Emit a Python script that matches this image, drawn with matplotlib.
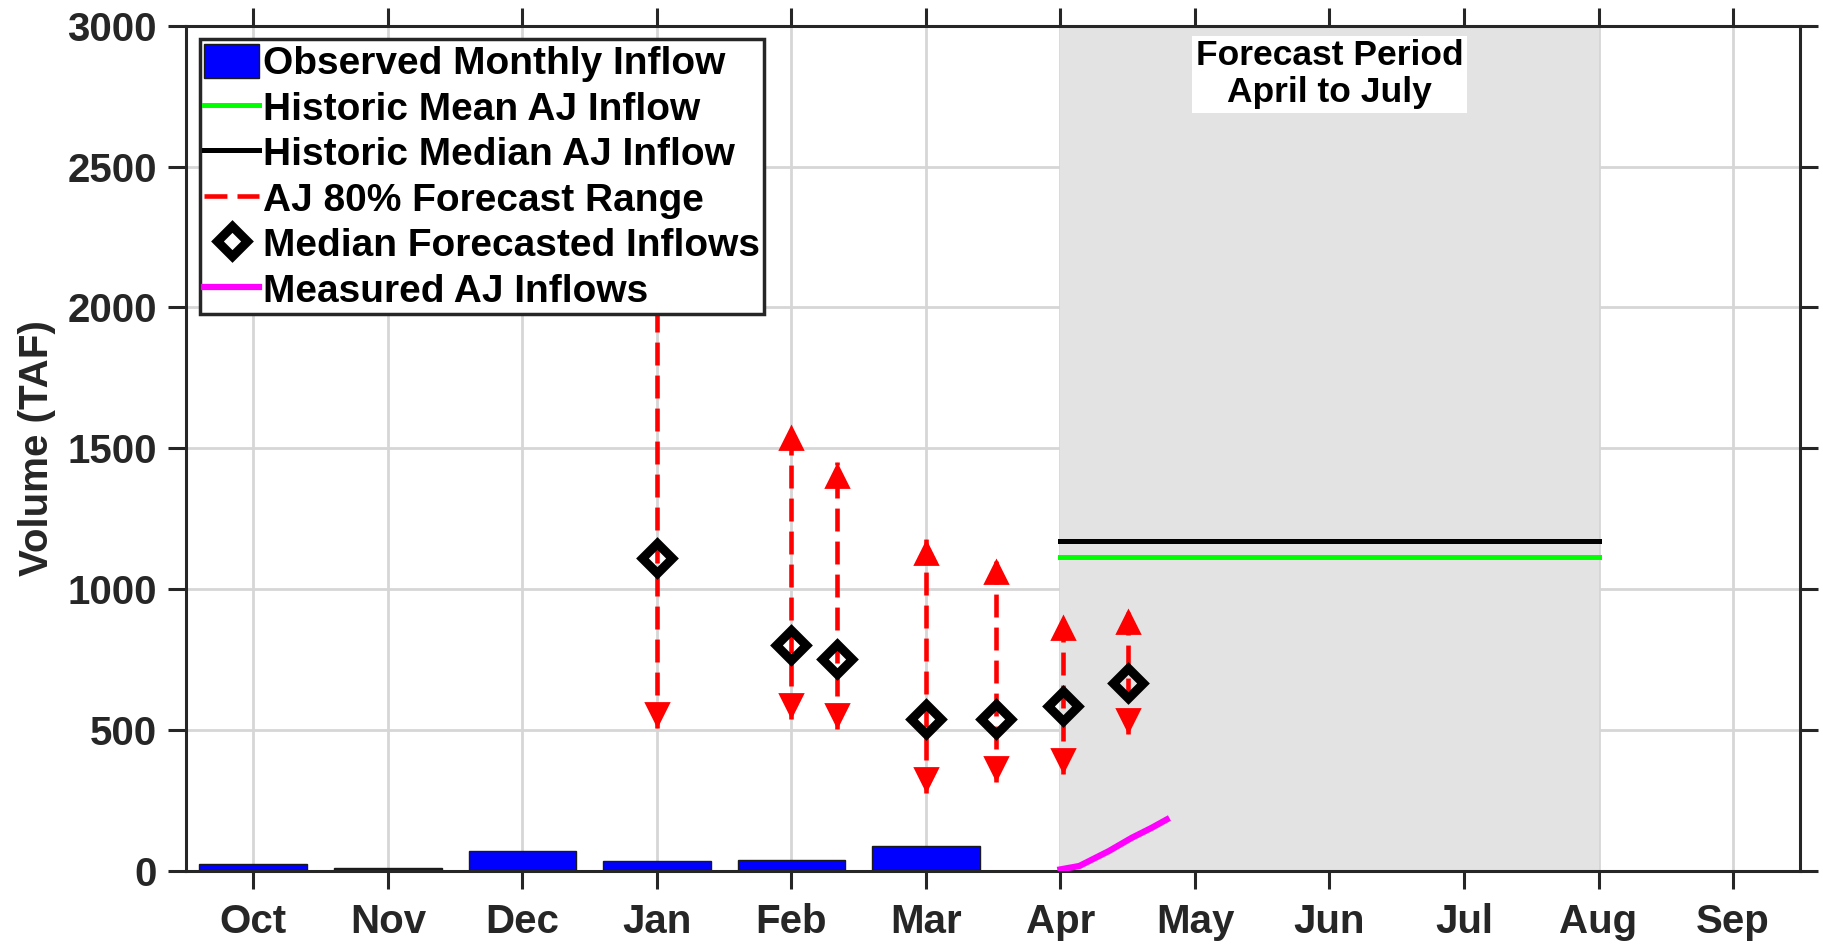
import numpy as np
import matplotlib
matplotlib.use('Agg')
from matplotlib import pyplot as plt
from matplotlib import rcParams

rcParams['font.family'] = ['Liberation Sans', 'DejaVu Sans']
rcParams['font.weight'] = 'bold'

# water year months, Oct = 1
months = ['Oct', 'Nov', 'Dec', 'Jan', 'Feb', 'Mar', 'Apr', 'May', 'Jun', 'Jul', 'Aug', 'Sep']
observed_inflow = [25, 12, 71, 34, 38, 90]  # Oct..Mar, TAF

# forecast issue dates (month position) and 80% range
fc_pos = [4.0, 5.0, 5.34, 6.0, 6.52, 7.02, 7.5]
fc_median = [1112, 804, 751, 540, 540, 585, 668]
fc_low = [508, 538, 503, 278, 315, 343, 485]
fc_high = [2190, 1585, 1453, 1177, 1112, 911, 934]

hist_mean = 1115
hist_median = 1172
period_start, period_end = 7, 11

measured_pos = [7.0, 7.14, 7.36, 7.53, 7.68, 7.79]
measured_val = [6, 18, 71, 118, 154, 183]

fig = plt.figure(figsize=(18.24, 9.52), dpi=100)
ax = fig.add_axes([0.102, 0.085, 0.885, 0.888])

x = np.arange(1, len(months) + 1)
ax.axvspan(period_start, period_end, color='#e3e3e3', lw=0, zorder=1)

bars = ax.bar(x[:len(observed_inflow)], observed_inflow, width=0.8, color='#0000ff',
              edgecolor='#1a1a1a', linewidth=1, zorder=2, label='Observed Monthly Inflow')
mean_ln, = ax.plot([period_start, period_end], [hist_mean, hist_mean], color='#00ff00',
                   lw=3.6, zorder=3, label='Historic Mean AJ Inflow')
med_ln, = ax.plot([period_start, period_end], [hist_median, hist_median], color='k',
                  lw=3.6, zorder=3, label='Historic Median AJ Inflow')

for i in range(len(fc_pos)):
    rng, = ax.plot([fc_pos[i], fc_pos[i]], [fc_low[i], fc_high[i]], color='r', lw=3.3,
                   dashes=(5.0, 2.2), zorder=3)
    if i == 0:
        range_ln = rng
range_ln.set_label('AJ 80% Forecast Range')

up_head = [(0, 0), (-0.5, -1), (0.5, -1), (0, 0)]
down_head = [(0, 0), (-0.5, 1), (0.5, 1), (0, 0)]
ax.plot(fc_pos, fc_high, ls='none', marker=up_head, ms=38, color='r', mew=0, zorder=3)
ax.plot(fc_pos, fc_low, ls='none', marker=down_head, ms=38, color='r', mew=0, zorder=3)

pts, = ax.plot(fc_pos, fc_median, ls='none', marker='D', ms=15, mfc='none', mec='k',
               mew=6.5, zorder=4, label='Median Forecasted Inflows')
meas, = ax.plot(measured_pos, measured_val, color='#ff00ff', lw=4.5, zorder=4,
                label='Measured AJ Inflows')

ax.text(9, 0.984, 'Forecast Period\nApril to July', transform=ax.get_xaxis_transform(),
        ha='center', va='top', fontsize=25.5, linespacing=1.15, zorder=6,
        bbox=dict(facecolor='white', edgecolor='none', pad=2.5))

ax.set_xlim(0.5, 12.5)
ax.set_ylim(0, 3000)
ax.set_xticks(x)
ax.set_xticklabels(months)
ax.set_yticks(np.arange(0, 3001, 500))
ax.set_axisbelow(True)
ax.grid(True, color='#d6d6d6', lw=2)
ax.tick_params(direction='out', length=13, width=2.2, top=True, right=True,
               labelsize=29, color='#262626', labelcolor='#262626')
ax.tick_params(axis='x', pad=10)
ax.tick_params(axis='y', pad=8)
for s in ax.spines.values():
    s.set_linewidth(2.2)
    s.set_color('#262626')
ax.set_ylabel('Volume (TAF)', fontsize=29, fontweight='bold', color='#262626', labelpad=8)

leg = ax.legend([bars, mean_ln, med_ln, range_ln, pts, meas],
                ['Observed Monthly Inflow', 'Historic Mean AJ Inflow',
                 'Historic Median AJ Inflow', 'AJ 80% Forecast Range',
                 'Median Forecasted Inflows', 'Measured AJ Inflows'],
                loc='upper left', fontsize=28, frameon=True, fancybox=False,
                edgecolor='#262626', framealpha=1, borderpad=0.12, labelspacing=0.19,
                handlelength=1.4, handleheight=0.95, handletextpad=0.1,
                borderaxespad=0.35, numpoints=1)
leg.get_frame().set_linewidth(2.5)
leg.set_zorder(10)

fig.savefig('out.png', dpi=100)
